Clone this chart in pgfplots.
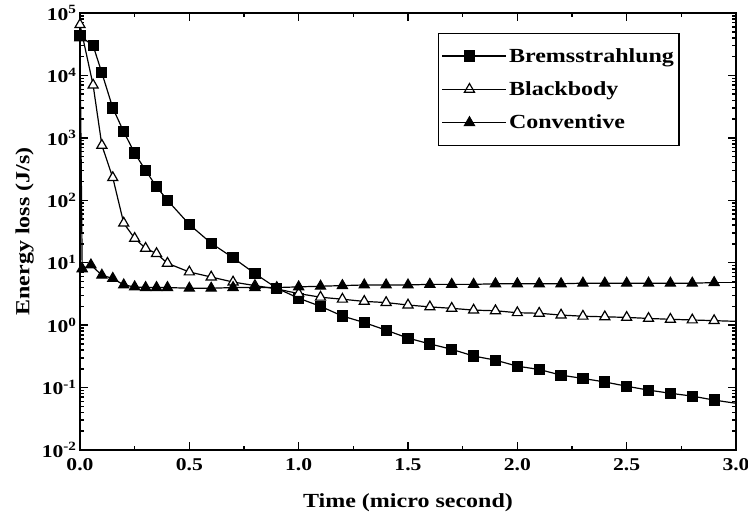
\documentclass[border=0pt]{standalone}
\usepackage{fontspec}
\setmainfont{Liberation Serif}[FakeStretch=1.2]
\usepackage{pgfplots}
\pgfplotsset{compat=1.18}
\begin{document}
\begin{tikzpicture}
\begin{axis}[
  scale only axis, width=656pt, height=437pt,
  ymode=log, xmin=0, xmax=3, ymin=1e-2, ymax=1e5,
  xtick={0,0.5,1,1.5,2,2.5,3}, minor x tick num=1,
  xticklabels={0.0,0.5,1.0,1.5,2.0,2.5,3.0},
  ytick={1e-2,1e-1,1,10,100,1000,1e4,1e5},
  yticklabels={10\textsuperscript{-2},10\textsuperscript{-1},10\textsuperscript{0},10\textsuperscript{1},10\textsuperscript{2},10\textsuperscript{3},10\textsuperscript{4},10\textsuperscript{5}},
  tick align=inside,
  major tick length=8pt, minor tick length=4pt,
  axis line style={line width=2.5pt},
  every tick/.style={black, line width=1.5pt},
  tick label style={font=\fontsize{18}{18}\selectfont\bfseries},
  xticklabel style={yshift=-5pt},
  label style={font=\fontsize{20}{20}\selectfont\bfseries},
  xlabel={Time (micro second)}, ylabel={Energy loss (J/s)},
  xlabel style={yshift=-16pt},
  ylabel style={yshift=1pt},
  legend style={at={(0.914,0.955)}, anchor=north east, draw=black, line width=1.2pt,
    font=\fontsize{20}{20}\selectfont\bfseries, row sep=14pt, inner xsep=3pt, inner ysep=13pt,
    cells={anchor=west}},
  legend image code/.code={\draw[line width=1.2pt, mark repeat=2,mark phase=2] plot coordinates {(0pt,0pt)(27pt,0pt)(54pt,0pt)};\path (0pt,0pt) -- (64pt,0pt);},
]
\addplot[black, line width=1.2pt, mark=square*, mark size=5pt, mark options={solid, fill=black}] coordinates {
(0,4.3e4)(0.06,3.0e4)(0.1,1.1e4)(0.15,3000)(0.2,1250)(0.25,570)(0.3,300)(0.35,165)(0.4,100)
(0.5,41)(0.6,20.5)(0.7,12)(0.8,6.7)(0.9,3.9)(1.0,2.7)(1.1,2.0)(1.2,1.4)(1.3,1.1)(1.4,0.83)
(1.5,0.62)(1.6,0.50)(1.7,0.41)(1.8,0.32)(1.9,0.275)(2.0,0.22)(2.1,0.195)(2.2,0.158)(2.3,0.14)
(2.4,0.123)(2.5,0.105)(2.6,0.091)(2.7,0.081)(2.8,0.073)(2.9,0.063)};
\addlegendentry{Bremsstrahlung}
\addplot[black, line width=1.2pt, mark=triangle*, mark size=5.8pt, mark options={solid, fill=white}] coordinates {
(0,6.5e4)(0.06,7000)(0.1,760)(0.15,230)(0.2,43)(0.25,24.5)(0.3,17)(0.35,14)(0.4,9.8)
(0.5,7.1)(0.6,5.9)(0.7,4.9)(0.8,4.3)(0.9,3.8)(1.0,3.2)(1.1,2.8)(1.2,2.6)(1.3,2.4)(1.4,2.3)
(1.5,2.1)(1.6,1.96)(1.7,1.86)(1.8,1.74)(1.9,1.7)(2.0,1.58)(2.1,1.55)(2.2,1.45)(2.3,1.39)
(2.4,1.36)(2.5,1.33)(2.6,1.28)(2.7,1.24)(2.8,1.21)(2.9,1.18)};
\addlegendentry{Blackbody}
\addplot[black, line width=1.2pt, mark=triangle*, mark size=5.8pt, mark options={solid, fill=black}] coordinates {
(0,4.0e4)(0.01,8)(0.05,9.2)(0.1,6.3)(0.15,5.6)(0.2,4.4)(0.25,4.1)(0.3,4.0)(0.35,4.0)(0.4,4.0)
(0.5,3.9)(0.6,3.9)(0.7,4.0)(0.8,4.0)(0.9,4.0)(1.0,4.1)(1.1,4.2)(1.2,4.3)(1.3,4.4)(1.4,4.4)
(1.5,4.4)(1.6,4.5)(1.7,4.5)(1.8,4.5)(1.9,4.6)(2.0,4.6)(2.1,4.6)(2.2,4.6)(2.3,4.7)(2.4,4.7)
(2.5,4.7)(2.6,4.7)(2.7,4.7)(2.8,4.7)(2.9,4.8)};
\addlegendentry{Conventive}
\addplot[black, line width=1.2pt, no marks, forget plot] coordinates {(2.9,0.063)(3.0,0.056)};
\addplot[black, line width=1.2pt, no marks, forget plot] coordinates {(2.9,1.18)(3.0,1.15)};
\addplot[black, line width=1.2pt, no marks, forget plot] coordinates {(2.9,4.8)(3.0,4.8)};
\end{axis}
\pgfresetboundingbox
\path (current axis.south west) ++(-80pt,-71pt) rectangle ++(748pt,521pt);
\end{tikzpicture}
\end{document}
